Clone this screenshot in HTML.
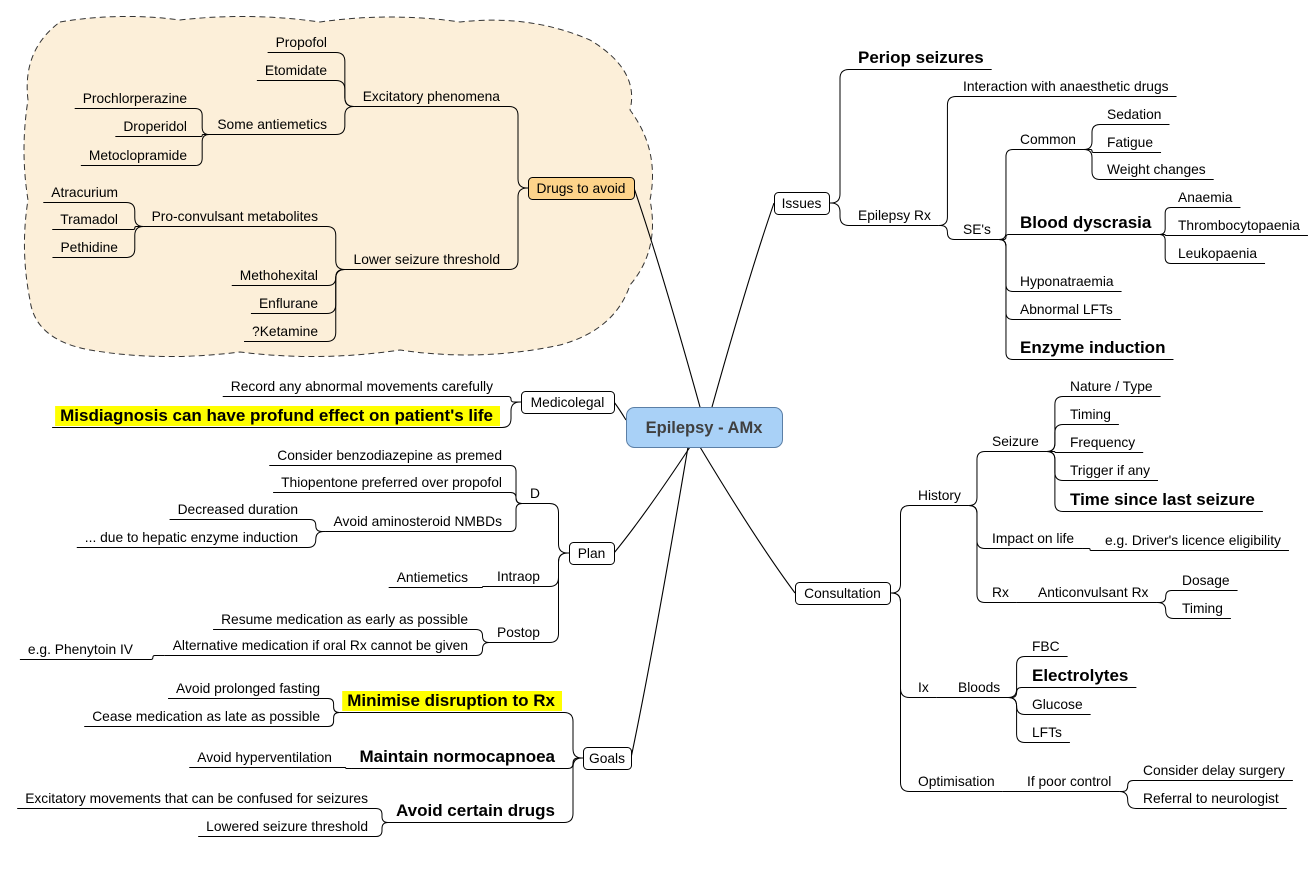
<!DOCTYPE html>
<html><head><meta charset="utf-8"><style>
html,body{margin:0;padding:0;background:#fff;}
svg{display:block;font-family:"Liberation Sans",Arial,sans-serif;}
</style></head><body>
<svg id="map" width="1312" height="877" viewBox="0 0 1312 877">
<path d="M60,22 Q120,12 180,20 Q250,12 320,22 Q390,12 460,22 Q530,14 590,40 Q640,70 630,110 Q660,150 650,200 Q660,250 630,285 Q615,330 560,345 Q480,362 400,350 Q320,362 240,352 Q160,362 90,350 Q35,340 30,300 Q20,250 28,200 Q20,150 28,100 Q22,50 60,22 Z" fill="#fcefd9" stroke="#333" stroke-width="1" stroke-dasharray="6,4"/>
<g id="links"></g>
<g id="hl"></g>
<g id="lines"></g>
<g id="texts"></g>
<g id="boxes"></g>
</svg>
<script>
const NS='http://www.w3.org/2000/svg';
const svg=document.getElementById('map');
const gLinks=document.getElementById('links'),gHl=document.getElementById('hl'),gLines=document.getElementById('lines'),gTexts=document.getElementById('texts'),gBoxes=document.getElementById('boxes');
const boxes=[
 ['center','Epilepsy - AMx',626,407,156,40,'#a9d1f7'],
 ['issues','Issues',774,192,55,22,'#fff'],
 ['consultation','Consultation',795,582,95,22,'#fff'],
 ['drugs','Drugs to avoid',528,177,106,22,'#fdd38a'],
 ['medicolegal','Medicolegal',521,391,93,22,'#fff'],
 ['plan','Plan',569,542,45,22,'#fff'],
 ['goals','Goals',583,747,48,22,'#fff']
];
const centerLinks=[
 ['issues',712,407,774,203],['consultation',700,447,795,593],['drugs',700,407,634,188],
 ['medicolegal',626,420,614,402],['plan',690,447,614,553],['goals',688,447,631,758]
];
const nodes=[
 ['periop','issues','Periop seizures','r',858,63,'b'],
 ['eprx','issues','Epilepsy Rx','r',858,220,''],
 ['interaction','eprx','Interaction with anaesthetic drugs','r',963,91,''],
 ['ses','eprx',"SE's",'r',963,234,''],
 ['common','ses','Common','r',1020,144,''],
 ['blood','ses','Blood dyscrasia','r',1020,228,'b'],
 ['hypo','ses','Hyponatraemia','r',1020,286,''],
 ['lfts1','ses','Abnormal LFTs','r',1020,314,''],
 ['enzyme','ses','Enzyme induction','r',1020,353,'b'],
 ['sedation','common','Sedation','r',1107,119,''],
 ['fatigue','common','Fatigue','r',1107,147,''],
 ['weight','common','Weight changes','r',1107,174,''],
 ['anaemia','blood','Anaemia','r',1178,202,''],
 ['thrombo','blood','Thrombocytopaenia','r',1178,230,''],
 ['leuko','blood','Leukopaenia','r',1178,258,''],
 ['history','consultation','History','r',918,500,''],
 ['ix','consultation','Ix','r',918,692,''],
 ['optim','consultation','Optimisation','r',918,786,''],
 ['seizure','history','Seizure','r',992,446,''],
 ['impact','history','Impact on life','r',992,543,''],
 ['rx','history','Rx','r',992,597,''],
 ['nature','seizure','Nature / Type','r',1070,391,''],
 ['timing1','seizure','Timing','r',1070,419,''],
 ['freq','seizure','Frequency','r',1070,447,''],
 ['trigger','seizure','Trigger if any','r',1070,475,''],
 ['timesince','seizure','Time since last seizure','r',1070,505,'b'],
 ['driver','impact',"e.g. Driver's licence eligibility",'r',1105,545,''],
 ['anticonv','rx','Anticonvulsant Rx','r',1038,597,''],
 ['dosage','anticonv','Dosage','r',1182,585,''],
 ['timing2','anticonv','Timing','r',1182,613,''],
 ['bloods','ix','Bloods','r',958,692,''],
 ['fbc','bloods','FBC','r',1032,651,''],
 ['electro','bloods','Electrolytes','r',1032,681,'b'],
 ['glucose','bloods','Glucose','r',1032,709,''],
 ['lfts2','bloods','LFTs','r',1032,737,''],
 ['poor','optim','If poor control','r',1027,786,''],
 ['delay','poor','Consider delay surgery','r',1143,775,''],
 ['referral','poor','Referral to neurologist','r',1143,803,''],
 ['excit','drugs','Excitatory phenomena','l',500,101,''],
 ['lower','drugs','Lower seizure threshold','l',500,264,''],
 ['propofol','excit','Propofol','l',327,47,''],
 ['etomidate','excit','Etomidate','l',327,75,''],
 ['antiem','excit','Some antiemetics','l',327,129,''],
 ['prochlor','antiem','Prochlorperazine','l',187,103,''],
 ['droper','antiem','Droperidol','l',187,131,''],
 ['metoclo','antiem','Metoclopramide','l',187,160,''],
 ['procon','lower','Pro-convulsant metabolites','l',318,221,''],
 ['metho','lower','Methohexital','l',318,280,''],
 ['enflu','lower','Enflurane','l',318,308,''],
 ['ketamine','lower','?Ketamine','l',318,336,''],
 ['atrac','procon','Atracurium','l',118,197,''],
 ['tramadol','procon','Tramadol','l',118,224,''],
 ['pethidine','procon','Pethidine','l',118,252,''],
 ['record','medicolegal','Record any abnormal movements carefully','l',493,391,''],
 ['misdiag','medicolegal',"Misdiagnosis can have profund effect on patient's life",'l',493,421,'bh'],
 ['d','plan','D','l',540,498,''],
 ['intraop','plan','Intraop','l',540,581,''],
 ['postop','plan','Postop','l',540,637,''],
 ['benzo','d','Consider benzodiazepine as premed','l',502,460,''],
 ['thiop','d','Thiopentone preferred over propofol','l',502,487,''],
 ['amino','d','Avoid aminosteroid NMBDs','l',502,526,''],
 ['decr','amino','Decreased duration','l',298,514,''],
 ['hepatic','amino','... due to hepatic enzyme induction','l',298,542,''],
 ['antiem2','intraop','Antiemetics','l',468,582,''],
 ['resume','postop','Resume medication as early as possible','l',468,624,''],
 ['altmed','postop','Alternative medication if oral Rx cannot be given','l',468,650,''],
 ['phenytoin','altmed','e.g. Phenytoin IV','l',133,654,''],
 ['minimise','goals','Minimise disruption to Rx','l',555,706,'bh'],
 ['maintain','goals','Maintain normocapnoea','l',555,762,'b'],
 ['avoidcd','goals','Avoid certain drugs','l',555,816,'b'],
 ['fasting','minimise','Avoid prolonged fasting','l',320,693,''],
 ['cease','minimise','Cease medication as late as possible','l',320,721,''],
 ['hypervent','maintain','Avoid hyperventilation','l',332,762,''],
 ['excitmov','avoidcd','Excitatory movements that can be confused for seizures','l',368,803,''],
 ['loweredst','avoidcd','Lowered seizure threshold','l',368,831,'']
];
function mk(tag,attrs,parent){const e=document.createElementNS(NS,tag);for(const k in attrs)e.setAttribute(k,attrs[k]);parent.appendChild(e);return e;}
const anchors={};
boxes.forEach(b=>{
 const [id,t,x,y,w,h,fill]=b;
 const r=mk('rect',{x:x+0.5,y:y+0.5,width:w,height:h,rx:id==='center'?8:4,fill:fill,stroke:id==='center'?'#5b7fa6':'#000','stroke-width':1},gBoxes);
 
 
 const tx=mk('text',{x:x+w/2,y:y+h/2+(id==='center'?6:5),'text-anchor':'middle','font-size':id==='center'?16.5:13.8,'font-weight':id==='center'?'bold':'normal',fill:id==='center'?'#404040':'#000'},gBoxes);
 tx.textContent=t;
 
 
 anchors[id]={r:[x+w,y+h/2],l:[x,y+h/2]};
});
centerLinks.forEach(c=>{
 const [id,x1,y1,x2,y2]=c;
 const mx=(x1+x2)/2+(x2-x1)*0.1, my=(y1+y2)/2;
 const p=mk('path',{d:`M${x1},${y1} Q${mx},${my+(y2-y1)*0.15} ${x2},${y2}`,fill:'none',stroke:'#000','stroke-width':1.1},gLinks);
 
 
});
function connector(px,py,cx,cy){
 const mx=(px+cx)/2;const dy=cy-py;const s=dy>=0?1:-1;
 const r=Math.min(Math.abs(dy)/2,Math.abs(cx-px)/2,9);
 const d=cx>px?1:-1;
 if(Math.abs(dy)<1)return `M${px},${py} L${cx},${cy}`;
 return `M${px},${py} L${mx-d*r},${py} Q${mx},${py} ${mx},${py+s*r} L${mx},${cy-s*r} Q${mx},${cy} ${mx+d*r},${cy} L${cx},${cy}`;
}
nodes.forEach(n=>{
 const [id,par,t,side,x,y,st]=n;
 const bold=st.includes('b');
 const tx=mk('text',{x:x,y:y,'text-anchor':side==='r'?'start':'end','font-size':bold?17:13.8,'font-weight':bold?'bold':'normal',fill:'#000'},gTexts);
 tx.textContent=t;
 
 
 const len=tx.getComputedTextLength();
 const uy=y+(bold?6:5)+0.5;
 let x0,x1;
 if(side==='r'){x0=x-7;x1=x+len+8;}else{x0=x-len-8;x1=x+8;}
 if(st.includes('h')){
  const h=mk('rect',{x:x0+3,y:y-15,width:x1-x0-4,height:20,fill:'#ffff00'},gHl);
  
  
 }
 const u=mk('line',{x1:x0,y1:uy,x2:x1,y2:uy,stroke:'#000','stroke-width':1},gLines);
 
 
 anchors[id]={r:[x1,uy],l:[x0,uy]};
 const pa=anchors[par];
 let p,c;
 if(side==='r'){p=pa.r;c=[x0,uy];}else{p=pa.l;c=[x1,uy];}
 const ln=mk('path',{d:connector(p[0],p[1],c[0],c[1]),fill:'none',stroke:'#000','stroke-width':1},gLinks);
 
 
});
</script>
</body></html>
